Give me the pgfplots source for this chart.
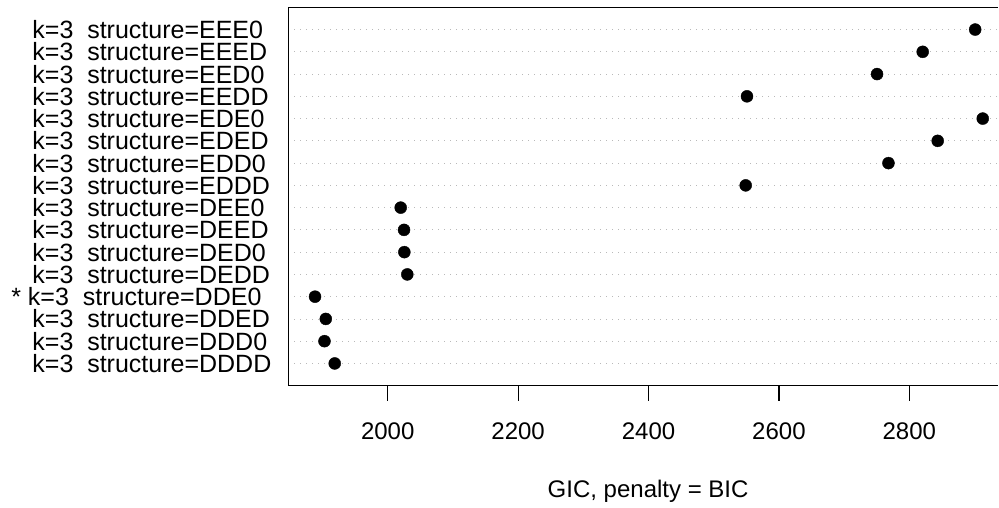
\documentclass[border=0pt]{standalone}
\usepackage{fontspec}
\setmainfont{Liberation Sans}
\usepackage{pgfplots}
\pgfplotsset{compat=1.18}
\begin{document}
\begin{tikzpicture}[x=1pt,y=1pt]
\useasboundingbox (0,0) rectangle (999,507);
\begin{axis}[
  at={(288.3pt,121.3pt)}, anchor=south west,
  scale only axis, width=709.7pt, height=378.4pt,
  xmin=1847.5, xmax=2936, ymin=0, ymax=17,
  axis x line=box, axis y line*=left,
  axis line style={line width=1.2pt},
  xtick={2000,2200,2400,2600,2800},
  xtick pos=bottom, tick align=outside,
  major tick length=15pt,
  x tick style={line width=1.2pt, black},
  y tick style={draw=none},
  ytick={1,...,16},
  yticklabels={
    k=3\ \ structure=DDDD,
    k=3\ \ structure=DDD0,
    k=3\ \ structure=DDED,
    \hspace*{-4.4pt}\llap{*\ }k=3\ \ structure=DDE0,
    k=3\ \ structure=DEDD,
    k=3\ \ structure=DED0,
    k=3\ \ structure=DEED,
    k=3\ \ structure=DEE0,
    k=3\ \ structure=EDDD,
    k=3\ \ structure=EDD0,
    k=3\ \ structure=EDED,
    k=3\ \ structure=EDE0,
    k=3\ \ structure=EEDD,
    k=3\ \ structure=EED0,
    k=3\ \ structure=EEED,
    k=3\ \ structure=EEE0},
  yticklabel style={anchor=west, inner sep=0pt, xshift=-241.1pt, font=\fontsize{25}{26}\selectfont},
  xticklabel style={anchor=base, inner sep=0pt, yshift=-39pt, font=\fontsize{24}{26}\selectfont},
  /pgf/number format/assume math mode=true,
  /pgf/number format/set thousands separator={},
  ymajorgrids,
  grid style={gray!55, line width=0.8pt, dash pattern=on 0.8pt off 5.2pt},
  xlabel={GIC, penalty = BIC},
  xlabel style={at={(axis description cs:0.507,0)}, anchor=base, inner sep=0pt, yshift=-111.3pt, font=\fontsize{24}{26}\selectfont},
  clip=false,
]
\addplot[only marks, mark=*, mark size=6pt, black] coordinates {
  (1918.7,1) (1903,2) (1905,3) (1888.5,4)
  (2030,5) (2025.5,6) (2025,7) (2019.9,8)
  (2549,9) (2768,10) (2843.5,11) (2912.6,12)
  (2551,13) (2750.5,14) (2820.5,15) (2901,16)
};
\end{axis}
\end{tikzpicture}
\end{document}
